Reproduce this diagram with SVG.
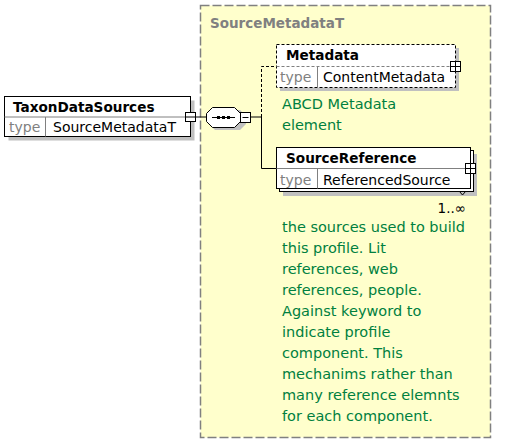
<svg xmlns="http://www.w3.org/2000/svg" width="509" height="443" viewBox="0 0 509 443">
  <style>
    .bg { fill: #ffffff; }
    .group { fill: #ffffcc; stroke: #808080; stroke-width: 1.5; stroke-dasharray: 9 3; }
    .title { font-family: "DejaVu Sans", sans-serif; font-weight: bold; font-size: 13.5px; fill: #808080; }
    .shadow { fill: #c0c0c0; }
    .box { fill: #ffffff; stroke: #000000; stroke-width: 1; }
    .box-dash { fill: #ffffff; stroke: #000000; stroke-width: 1; stroke-dasharray: 3 2; }
    .sep { stroke: #808080; stroke-width: 1; fill: none; }
    .sep-dash { stroke: #808080; stroke-width: 1; fill: none; stroke-dasharray: 3 2; }
    .name { font-family: "DejaVu Sans", sans-serif; font-weight: bold; font-size: 13.6px; fill: #000000; }
    .tlabel { font-family: "DejaVu Sans", sans-serif; font-size: 14px; fill: #808080; }
    .tval { font-family: "DejaVu Sans", sans-serif; font-size: 14px; fill: #000000; }
    .doc { font-family: "DejaVu Sans", sans-serif; font-size: 14.5px; fill: #00803f; }
    .occ { font-family: "DejaVu Sans", sans-serif; font-size: 13.5px; fill: #000000; }
    .line { stroke: #000000; stroke-width: 1; fill: none; }
    .line-dash { stroke: #000000; stroke-width: 1; fill: none; stroke-dasharray: 3 2; }
    .btn { fill: #ffffff; stroke: #000000; stroke-width: 1; }
  </style>

  <rect class="bg" x="0" y="0" width="509" height="443"/>

  <!-- complex type container -->
  <g id="SourceMetadataT">
    <rect class="group" x="200.5" y="5.5" width="290" height="432"/>
    <text class="title" x="210" y="28">SourceMetadataT</text>
  </g>

  <!-- connectors -->
  <g id="connectors">
    <line class="line" x1="196" y1="117" x2="206" y2="117"/>
    <line class="line" x1="251" y1="117" x2="261.5" y2="117"/>
    <polyline class="line-dash" points="261.5,117 261.5,66.5 276,66.5"/>
    <polyline class="line" points="261.5,117 261.5,168.5 276,168.5"/>
  </g>

  <!-- root element -->
  <g id="TaxonDataSources">
    <rect class="shadow" x="8.5" y="100.5" width="186" height="40"/>
    <rect class="box" x="4.5" y="96.5" width="186" height="40"/>
    <line class="sep" x1="4.5" y1="117" x2="190.5" y2="117"/>
    <line class="sep" x1="45.5" y1="117" x2="45.5" y2="136.5"/>
    <text class="name" x="13" y="112">TaxonDataSources</text>
    <text class="tlabel" x="9" y="132">type</text>
    <text class="tval" x="53" y="132">SourceMetadataT</text>
    <rect class="btn" x="185.5" y="112.5" width="10" height="9"/>
    <line class="line" x1="185.5" y1="117" x2="195.5" y2="117"/>
  </g>

  <!-- sequence compositor -->
  <g id="sequence">
    <polygon class="shadow" points="215,110 240,110 246,116 246,124 240,130 215,130 209,124 209,116"/>
    <polygon class="box" points="212.5,107.5 234.5,107.5 240.5,113.5 240.5,121.5 234.5,127.5 212.5,127.5 206.5,121.5 206.5,113.5"/>
    <line class="line" x1="212" y1="117.5" x2="235" y2="117.5"/>
    <rect x="217" y="116" width="3" height="3" fill="#000"/>
    <rect x="222" y="116" width="3" height="3" fill="#000"/>
    <rect x="227" y="116" width="3" height="3" fill="#000"/>
    <rect class="btn" x="240.5" y="112.5" width="10" height="10"/>
    <line class="line" x1="242.5" y1="117.5" x2="248.5" y2="117.5"/>
  </g>

  <!-- optional child element -->
  <g id="Metadata">
    <rect class="shadow" x="280" y="48" width="179" height="43"/>
    <rect class="box-dash" x="276.5" y="44.5" width="179" height="43"/>
    <line class="sep-dash" x1="276.5" y1="66.5" x2="455.5" y2="66.5"/>
    <line class="sep" x1="317.5" y1="66.5" x2="317.5" y2="87.5"/>
    <text class="name" x="286" y="60">Metadata</text>
    <text class="tlabel" x="280" y="82">type</text>
    <text class="tval" x="323" y="82">ContentMetadata</text>
    <rect class="btn" x="450.5" y="61.5" width="10" height="10"/>
    <line class="line" x1="450.5" y1="66.5" x2="460.5" y2="66.5"/>
    <line class="line" x1="455.5" y1="61.5" x2="455.5" y2="71.5"/>
    <text class="doc" x="282" y="109">ABCD Metadata</text>
    <text class="doc" x="282" y="130">element</text>
  </g>

  <!-- repeating child element -->
  <g id="SourceReference">
    <rect class="shadow" x="283" y="154" width="194" height="42"/>
    <rect class="box" x="279.5" y="150.5" width="194" height="41"/>
    <rect class="box" x="276.5" y="147.5" width="194" height="41"/>
    <line class="sep" x1="276.5" y1="168.5" x2="470.5" y2="168.5"/>
    <line class="sep" x1="317.5" y1="168.5" x2="317.5" y2="188.5"/>
    <text class="name" x="286" y="163">SourceReference</text>
    <text class="tlabel" x="280" y="185">type</text>
    <text class="tval" x="323" y="185">ReferencedSource</text>
    <rect class="btn" x="465.5" y="163.5" width="10" height="10"/>
    <line class="line" x1="465.5" y1="168.5" x2="475.5" y2="168.5"/>
    <line class="line" x1="470.5" y1="163.5" x2="470.5" y2="173.5"/>
    <polyline class="line" points="459.5,191.5 462.5,195 465.5,191.5"/>
    <text class="occ" x="466" y="213" text-anchor="end">1..∞</text>
    <text class="doc" x="282" y="232">the sources used to build</text>
    <text class="doc" x="282" y="253">this profile. Lit</text>
    <text class="doc" x="282" y="274">references, web</text>
    <text class="doc" x="282" y="295">references, people.</text>
    <text class="doc" x="282" y="316">Against keyword to</text>
    <text class="doc" x="282" y="337">indicate profile</text>
    <text class="doc" x="282" y="358">component. This</text>
    <text class="doc" x="282" y="379">mechanims rather than</text>
    <text class="doc" x="282" y="400">many reference elemnts</text>
    <text class="doc" x="282" y="421">for each component.</text>
  </g>
</svg>
